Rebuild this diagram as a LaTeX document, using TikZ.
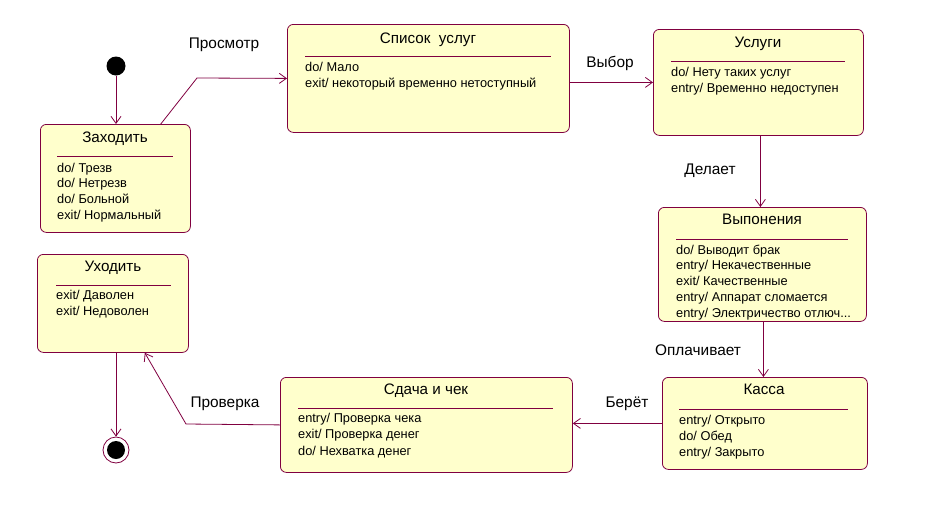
\documentclass[tikz,border=0pt]{standalone}
\usepackage{fontspec}
\setmainfont{Liberation Sans}
\usepackage{tikz}
\usetikzlibrary{arrows.meta}
\definecolor{umlline}{RGB}{128,0,64}
\definecolor{umlfill}{RGB}{255,255,204}
\newcommand{\umldots}{...}
\tikzset{
	state/.style={draw=umlline,fill=umlfill,line width=0.8pt,rounded corners=6pt,inner sep=0pt,anchor=north west},
	title/.style={anchor=base,inner sep=0pt,font=\fontsize{15.2}{18}\selectfont},
	act/.style={anchor=base west,inner sep=0pt,font=\fontsize{12.8}{15}\selectfont},
	lbl/.style={anchor=base,inner sep=0pt,font=\fontsize{15.4}{18}\selectfont},
	sep/.style={draw=umlline,line width=0.8pt},
	trans/.style={draw=umlline,line width=0.8pt,-{Straight Barb[length=7pt,width=10pt]}}
}
\begin{document}
\begin{tikzpicture}[x=1pt,y=-1pt]
	\useasboundingbox (0,0) rectangle (948,520);
	
	\node (init) [circle,fill=black,inner sep=0pt,minimum size=19pt] at (116,66) {};
	\node (final) [circle,draw=umlline,line width=0.8pt,fill=white,inner sep=0pt,minimum size=26pt] at (116,450) {};
	\node (final dot) [circle,fill=black,inner sep=0pt,minimum size=18pt] at (116,450) {};
	
	\node (zah) [state,minimum width=150pt,minimum height=108pt] at (40,124) {};
	\node (zah t) [title] at (115,142) {Заходить};
	\draw [sep] (57,156) -- (173,156);
	\foreach \t [count=\i] in {do/ Трезв,do/ Нетрезв,do/ Больной,exit/ Нормальный}
		\node (zah \i) [act] at (57,{172+(\i-1)*15.7}) {\t};
	
	\node (spisok) [state,minimum width=282pt,minimum height=108pt] at (287,24) {};
	\node (spisok t) [title] at (428,43) {Список~~услуг};
	\draw [sep] (305,56) -- (551,56);
	\foreach \t [count=\i] in {do/ Мало,exit/ некоторый временно нетоступный}
		\node (spisok \i) [act] at (305,{71+(\i-1)*16}) {\t};
	
	\node (uslugi) [state,minimum width=210pt,minimum height=106pt] at (653,29) {};
	\node (uslugi t) [title] at (758,47) {Услуги};
	\draw [sep] (671,61) -- (845,61);
	\foreach \t [count=\i] in {do/ Нету таких услуг,entry/ Временно недоступен}
		\node (uslugi \i) [act] at (671,{76+(\i-1)*16}) {\t};
	
	\node (vyp) [state,minimum width=208pt,minimum height=114pt] at (658,207) {};
	\node (vyp t) [title] at (762,224) {Выпонения};
	\draw [sep] (676,239) -- (848,239);
	\foreach \t [count=\i] in {do/ Выводит брак,entry/ Некачественные,exit/ Качественные,entry/ Аппарат сломается,entry/ Электричество отлюч\umldots}
		\node (vyp \i) [act] at (676,{254+(\i-1)*15.8}) {\t};
	
	\node (kassa) [state,minimum width=205pt,minimum height=92pt] at (662,377) {};
	\node (kassa t) [title] at (764,394) {Касса};
	\draw [sep] (679,409) -- (848,409);
	\foreach \t [count=\i] in {entry/ Открыто,do/ Обед,entry/ Закрыто}
		\node (kassa \i) [act] at (679,{424+(\i-1)*16}) {\t};
	
	\node (sdacha) [state,minimum width=292pt,minimum height=95pt] at (280,377) {};
	\node (sdacha t) [title] at (426,394) {Сдача и чек};
	\draw [sep] (298,408) -- (553,408);
	\foreach \t [count=\i] in {entry/ Проверка чека,exit/ Проверка денег,do/ Нехватка денег}
		\node (sdacha \i) [act] at (298,{422+(\i-1)*16.5}) {\t};
	
	\node (uhod) [state,minimum width=151pt,minimum height=98pt] at (37,254) {};
	\node (uhod t) [title] at (113,271) {Уходить};
	\draw [sep] (56,285) -- (171,285);
	\foreach \t [count=\i] in {exit/ Даволен,exit/ Недоволен}
		\node (uhod \i) [act] at (56,{299+(\i-1)*16.5}) {\t};
	
	\coordinate (p1) at (197,78);
	\coordinate (p2) at (186,424);
	
	\draw [trans] (init) -- (init |- zah.north);
	\draw [trans] ([xshift=-30pt]zah.north east) -- (p1) -- (spisok.west);
	\draw [trans] (uslugi.west -| spisok.east) -- (uslugi.west);
	\draw [trans] ([xshift=2pt]uslugi.south) -- ([xshift=2pt]uslugi.south |- vyp.north);
	\draw [trans] ([xshift=1pt]vyp.south) -- ([xshift=1pt]vyp.south |- kassa.north);
	\draw [trans] (kassa.west) -- (kassa.west -| sdacha.east);
	\draw [trans] (sdacha.west) -- (p2) -- ([xshift=-44pt]uhod.south east);
	\draw [trans] (final |- uhod.south) -- (final);
	
	\node (l prosmotr) [lbl] at (224,48) {Просмотр};
	\node (l vybor) [lbl] at (610,67) {Выбор};
	\node (l delaet) [lbl] at (710,174) {Делает};
	\node (l oplach) [lbl] at (698,355) {Оплачивает};
	\node (l beret) [lbl] at (627,407) {Берёт};
	\node (l proverka) [lbl] at (225,407) {Проверка};
\end{tikzpicture}
\end{document}
